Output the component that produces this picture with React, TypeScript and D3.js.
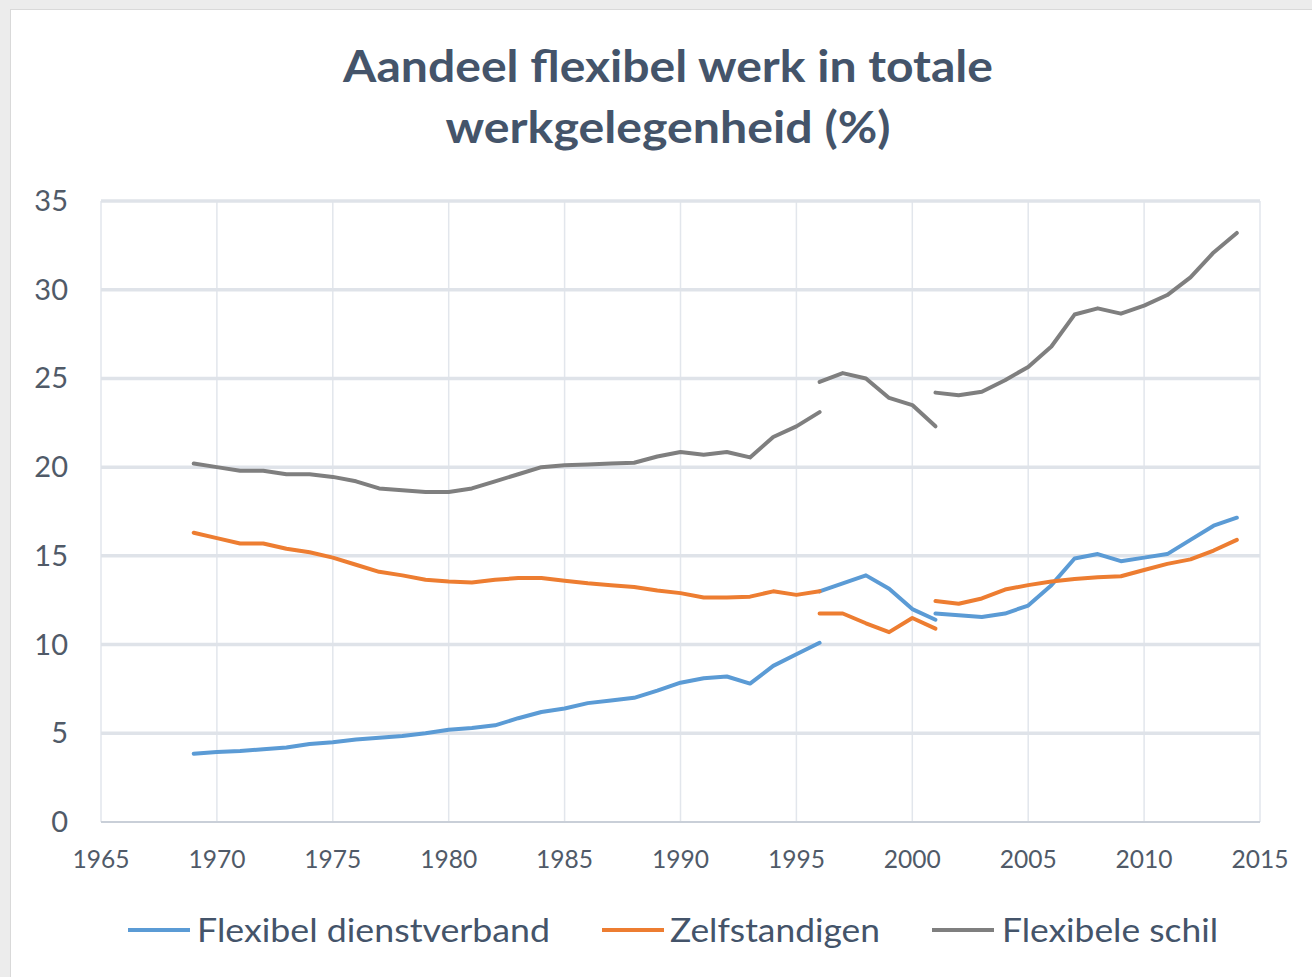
import React from 'react';
import * as d3 from 'd3';

// years per segment (the series have breaks in 1996 and 2001)
const years1 = [1969, 1970, 1971, 1972, 1973, 1974, 1975, 1976, 1977, 1978, 1979, 1980, 1981, 1982,
  1983, 1984, 1985, 1986, 1987, 1988, 1989, 1990, 1991, 1992, 1993, 1994, 1995, 1996];
const years2 = [1996, 1997, 1998, 1999, 2000, 2001];
const years3 = [2001, 2002, 2003, 2004, 2005, 2006, 2007, 2008, 2009, 2010, 2011, 2012, 2013, 2014];

const dienstverband1 = [3.85, 3.95, 4.0, 4.1, 4.2, 4.4, 4.5, 4.65, 4.75, 4.85, 5.0, 5.2, 5.3, 5.45,
  5.85, 6.2, 6.4, 6.7, 6.85, 7.0, 7.4, 7.85, 8.1, 8.2, 7.8, 8.8, 9.45, 10.1];
const dienstverband2 = [13.0, 13.45, 13.9, 13.15, 12.0, 11.4];
const dienstverband3 = [11.75, 11.65, 11.55, 11.75, 12.2, 13.35, 14.85, 15.1, 14.7, 14.9, 15.1, 15.9, 16.7, 17.15];

const zelfstandigen1 = [16.3, 16.0, 15.7, 15.7, 15.4, 15.2, 14.9, 14.5, 14.1, 13.9, 13.65, 13.55, 13.5, 13.65,
  13.75, 13.75, 13.6, 13.45, 13.35, 13.25, 13.05, 12.9, 12.65, 12.65, 12.7, 13.0, 12.8, 13.0];
const zelfstandigen2 = [11.75, 11.75, 11.2, 10.7, 11.5, 10.9];
const zelfstandigen3 = [12.45, 12.3, 12.6, 13.1, 13.35, 13.55, 13.7, 13.8, 13.85, 14.2, 14.55, 14.8, 15.3, 15.9];

const schil1 = [20.2, 20.0, 19.8, 19.8, 19.6, 19.6, 19.45, 19.2, 18.8, 18.7, 18.6, 18.6, 18.8, 19.2,
  19.6, 20.0, 20.1, 20.15, 20.2, 20.25, 20.6, 20.85, 20.7, 20.85, 20.55, 21.7, 22.3, 23.1];
const schil2 = [24.8, 25.3, 25.0, 23.9, 23.5, 22.3];
const schil3 = [24.2, 24.05, 24.25, 24.9, 25.65, 26.8, 28.6, 28.95, 28.65, 29.1, 29.7, 30.7, 32.1, 33.2];

const xTicks = [1965, 1970, 1975, 1980, 1985, 1990, 1995, 2000, 2005, 2010, 2015];
const yTicks = [0, 5, 10, 15, 20, 25, 30, 35];

const seriesNames = ['Flexibel dienstverband', 'Zelfstandigen', 'Flexibele schil'];
const colors = ['#5b9bd5', '#ed7d31', '#7f7f7f'];

const FONT = 'Lato, "Open Sans", sans-serif';

const App = () => {
  const x = d3.scaleLinear().domain([1965, 2015]).range([101, 1260]);
  const y = d3.scaleLinear().domain([0, 35]).range([822, 201]);

  const line = d3.line<[number, number]>()
    .x(d => x(d[0]))
    .y(d => y(d[1]));

  const segments = [
    [dienstverband1, dienstverband2, dienstverband3],
    [zelfstandigen1, zelfstandigen2, zelfstandigen3],
    [schil1, schil2, schil3],
  ];
  const yearSets = [years1, years2, years3];

  // legend layout
  const legend = [
    { lineX: 128, textX: 197, width: 353 },
    { lineX: 602, textX: 670, width: 210 },
    { lineX: 932, textX: 1002, width: 216 },
  ];

  return (
    <svg width={1312} height={977} style={{ position: 'absolute', left: 0, top: 0, display: 'block' }}>
      <rect x={0} y={0} width={1312} height={977} fill="#ececec" />
      <rect x={10.5} y={9.5} width={1310} height={980} fill="#ffffff" stroke="#d9d9d9" />

      {/* title */}
      <text x={668} y={82} textAnchor="middle" fontFamily={FONT} fontWeight="bold" fontSize={44}
        fill="#44546a" textLength={650} lengthAdjust="spacingAndGlyphs">
        Aandeel flexibel werk in totale
      </text>
      <text x={668} y={143} textAnchor="middle" fontFamily={FONT} fontWeight="bold" fontSize={44}
        fill="#44546a" textLength={445} lengthAdjust="spacingAndGlyphs">
        werkgelegenheid (%)
      </text>

      {/* grid */}
      {xTicks.map(t => (
        <line key={'vx' + t} x1={x(t)} x2={x(t)} y1={y(35)} y2={y(0)} stroke="#e2e6ec" strokeWidth={1.5} />
      ))}
      {yTicks.filter(t => t > 0).map(t => (
        <line key={'hy' + t} x1={x(1965)} x2={x(2015)} y1={y(t)} y2={y(t)} stroke="#dfe3e9" strokeWidth={3.5} />
      ))}
      <line x1={x(1965)} x2={x(2015)} y1={y(0)} y2={y(0)} stroke="#c9cfd8" strokeWidth={2} />

      {/* tick labels */}
      {yTicks.map(t => (
        <text key={'yl' + t} x={68} y={y(t) + 10} textAnchor="end" fontFamily={FONT} fontSize={29} fill="#505a68">
          {t}
        </text>
      ))}
      {xTicks.map(t => (
        <text key={'xl' + t} x={x(t)} y={868} textAnchor="middle" fontFamily={FONT} fontSize={25} fill="#505a68"
          textLength={57} lengthAdjust="spacingAndGlyphs">
          {t}
        </text>
      ))}

      {/* series */}
      {segments.map((segs, si) => segs.map((vals, k) => (
        <path key={'s' + si + k}
          d={line(vals.map((v, i) => [yearSets[k][i], v] as [number, number])) || ''}
          fill="none" stroke={colors[si]} strokeWidth={4} strokeLinejoin="round" strokeLinecap="round" />
      )))}

      {/* legend */}
      {legend.map((l, i) => (
        <g key={'lg' + i}>
          <line x1={l.lineX} x2={l.lineX + 62} y1={930} y2={930} stroke={colors[i]} strokeWidth={4} />
          <text x={l.textX} y={942} fontFamily={FONT} fontSize={33} fill="#44546a"
            textLength={l.width} lengthAdjust="spacingAndGlyphs">
            {seriesNames[i]}
          </text>
        </g>
      ))}
    </svg>
  );
};

export default App;
